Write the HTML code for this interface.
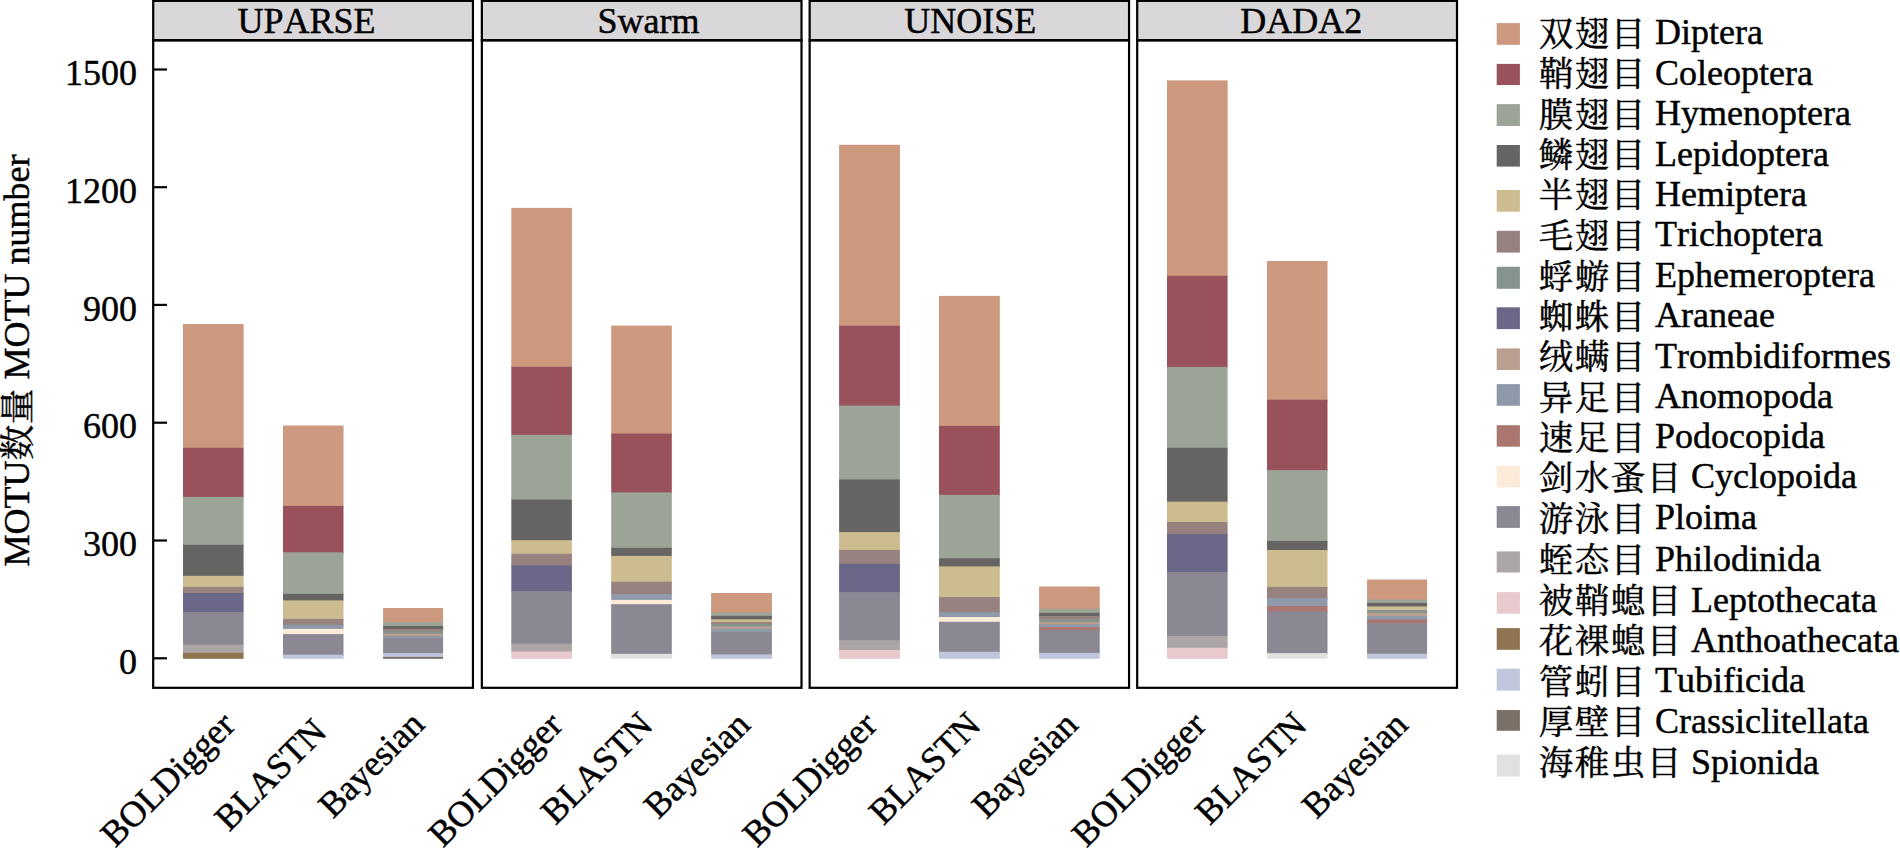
<!DOCTYPE html>
<html lang="zh"><head><meta charset="utf-8"><title>MOTU number</title>
<style>
html,body{margin:0;padding:0;background:#fff;}
body{width:1900px;height:849px;overflow:hidden;}
svg{display:block;position:absolute;left:0;top:0;}
text{font-family:"Liberation Serif", "Noto Serif CJK SC", serif;font-size:36px;fill:#000;font-kerning:none;stroke:#000;stroke-width:0.45px;stroke-linejoin:round;}
.c{font-size:34.5px;letter-spacing:1.5px;}
.d{font-size:35.5px;letter-spacing:0.5px;}
.b{fill:none;stroke:#000;stroke-width:2.2;}
.s{fill:#D9D7DA;stroke:#000;stroke-width:2.2;}
.t{stroke:#000;stroke-width:2.2;fill:none;}
</style></head><body>
<svg width="1900" height="849" viewBox="0 0 1900 849" role="img" aria-label="MOTU number by clustering method and taxonomy assignment">
<rect x="0" y="0" width="1900" height="849" fill="#fff"/>
<g shape-rendering="auto">
<rect x="183" y="324" width="60.6" height="124.8" fill="#CC987E"/>
<rect x="183" y="447.8" width="60.6" height="50.1" fill="#99525B"/>
<rect x="183" y="496.9" width="60.6" height="48.9" fill="#9CA397"/>
<rect x="183" y="544.8" width="60.6" height="32" fill="#666564"/>
<rect x="183" y="575.8" width="60.6" height="12.1" fill="#CDBC90"/>
<rect x="183" y="586.9" width="60.6" height="7.1" fill="#978280"/>
<rect x="183" y="593" width="60.6" height="19.9" fill="#6A6788"/>
<rect x="183" y="611.9" width="60.6" height="33.8" fill="#8B8793"/>
<rect x="183" y="644.7" width="60.6" height="9.1" fill="#ABA5A6"/>
<rect x="183" y="652.8" width="60.6" height="6.05" fill="#90744F"/>
<rect x="283" y="425.5" width="60.5" height="81.4" fill="#CC987E"/>
<rect x="283" y="505.9" width="60.5" height="47.4" fill="#99525B"/>
<rect x="283" y="552.3" width="60.5" height="42.6" fill="#9CA397"/>
<rect x="283" y="593.9" width="60.5" height="7.5" fill="#666564"/>
<rect x="283" y="600.4" width="60.5" height="19.5" fill="#CDBC90"/>
<rect x="283" y="618.9" width="60.5" height="6.9" fill="#978280"/>
<rect x="283" y="624.8" width="60.5" height="5.1" fill="#8E99A9"/>
<rect x="283" y="628.9" width="60.5" height="6.2" fill="#FDEBD9"/>
<rect x="283" y="634.1" width="60.5" height="21.6" fill="#8B8793"/>
<rect x="283" y="654.7" width="60.5" height="4.15" fill="#C0C6DB"/>
<rect x="383.1" y="608" width="60" height="15" fill="#CC987E"/>
<rect x="383.1" y="622" width="60" height="5" fill="#9CA397"/>
<rect x="383.1" y="626" width="60" height="3.9" fill="#666564"/>
<rect x="383.1" y="628.9" width="60" height="3.4" fill="#978280"/>
<rect x="383.1" y="631.3" width="60" height="3.4" fill="#86948F"/>
<rect x="383.1" y="633.7" width="60" height="3.3" fill="#BB9F8E"/>
<rect x="383.1" y="636" width="60" height="3" fill="#8E99A9"/>
<rect x="383.1" y="638" width="60" height="16.1" fill="#8B8793"/>
<rect x="383.1" y="653.1" width="60" height="4.75" fill="#C0C6DB"/>
<rect x="383.1" y="656.85" width="60" height="2" fill="#7C7169"/>
<rect x="511.3" y="207.9" width="60.6" height="159.9" fill="#CC987E"/>
<rect x="511.3" y="366.8" width="60.6" height="69" fill="#99525B"/>
<rect x="511.3" y="434.8" width="60.6" height="65.8" fill="#9CA397"/>
<rect x="511.3" y="499.6" width="60.6" height="41.6" fill="#666564"/>
<rect x="511.3" y="540.2" width="60.6" height="14.6" fill="#CDBC90"/>
<rect x="511.3" y="553.8" width="60.6" height="12.6" fill="#978280"/>
<rect x="511.3" y="565.4" width="60.6" height="26.7" fill="#6A6788"/>
<rect x="511.3" y="591.1" width="60.6" height="53.5" fill="#8B8793"/>
<rect x="511.3" y="643.6" width="60.6" height="8.9" fill="#ABA5A6"/>
<rect x="511.3" y="651.5" width="60.6" height="7.35" fill="#E8C9CC"/>
<rect x="611.2" y="325.6" width="60.6" height="109" fill="#CC987E"/>
<rect x="611.2" y="433.6" width="60.6" height="59.8" fill="#99525B"/>
<rect x="611.2" y="492.4" width="60.6" height="56.4" fill="#9CA397"/>
<rect x="611.2" y="547.8" width="60.6" height="9.1" fill="#666564"/>
<rect x="611.2" y="555.9" width="60.6" height="26.8" fill="#CDBC90"/>
<rect x="611.2" y="581.7" width="60.6" height="13.3" fill="#978280"/>
<rect x="611.2" y="594" width="60.6" height="6.9" fill="#8E99A9"/>
<rect x="611.2" y="599.9" width="60.6" height="5.3" fill="#FDEBD9"/>
<rect x="611.2" y="604.2" width="60.6" height="50.6" fill="#8B8793"/>
<rect x="611.2" y="653.8" width="60.6" height="5.05" fill="#E1E1DF"/>
<rect x="711.1" y="593" width="60.8" height="20.5" fill="#CC987E"/>
<rect x="711.1" y="612.5" width="60.8" height="4.4" fill="#9CA397"/>
<rect x="711.1" y="615.9" width="60.8" height="4.4" fill="#666564"/>
<rect x="711.1" y="619.3" width="60.8" height="3.7" fill="#CDBC90"/>
<rect x="711.1" y="622" width="60.8" height="3" fill="#978280"/>
<rect x="711.1" y="624" width="60.8" height="3.5" fill="#86948F"/>
<rect x="711.1" y="626.5" width="60.8" height="3.2" fill="#BB9F8E"/>
<rect x="711.1" y="628.7" width="60.8" height="4.2" fill="#8E99A9"/>
<rect x="711.1" y="631.9" width="60.8" height="23.5" fill="#8B8793"/>
<rect x="711.1" y="654.4" width="60.8" height="4.45" fill="#C0C6DB"/>
<rect x="839.1" y="144.8" width="60.8" height="181.9" fill="#CC987E"/>
<rect x="839.1" y="325.7" width="60.8" height="80.9" fill="#99525B"/>
<rect x="839.1" y="405.6" width="60.8" height="74.9" fill="#9CA397"/>
<rect x="839.1" y="479.5" width="60.8" height="53.6" fill="#666564"/>
<rect x="839.1" y="532.1" width="60.8" height="18.8" fill="#CDBC90"/>
<rect x="839.1" y="549.9" width="60.8" height="15" fill="#978280"/>
<rect x="839.1" y="563.9" width="60.8" height="29.2" fill="#6A6788"/>
<rect x="839.1" y="592.1" width="60.8" height="49.1" fill="#8B8793"/>
<rect x="839.1" y="640.2" width="60.8" height="10.8" fill="#ABA5A6"/>
<rect x="839.1" y="650" width="60.8" height="8.85" fill="#E8C9CC"/>
<rect x="939" y="295.9" width="60.8" height="131" fill="#CC987E"/>
<rect x="939" y="425.9" width="60.8" height="69.9" fill="#99525B"/>
<rect x="939" y="494.8" width="60.8" height="64.5" fill="#9CA397"/>
<rect x="939" y="558.3" width="60.8" height="9.1" fill="#666564"/>
<rect x="939" y="566.4" width="60.8" height="31.7" fill="#CDBC90"/>
<rect x="939" y="597.1" width="60.8" height="16.1" fill="#978280"/>
<rect x="939" y="612.2" width="60.8" height="5.8" fill="#8E99A9"/>
<rect x="939" y="617" width="60.8" height="5.8" fill="#FDEBD9"/>
<rect x="939" y="621.8" width="60.8" height="31" fill="#8B8793"/>
<rect x="939" y="651.8" width="60.8" height="7.05" fill="#C0C6DB"/>
<rect x="1039.1" y="586.5" width="60.6" height="23.3" fill="#CC987E"/>
<rect x="1039.1" y="608.8" width="60.6" height="5.1" fill="#9CA397"/>
<rect x="1039.1" y="612.9" width="60.6" height="4.1" fill="#666564"/>
<rect x="1039.1" y="616" width="60.6" height="4.1" fill="#978280"/>
<rect x="1039.1" y="619.1" width="60.6" height="3.9" fill="#86948F"/>
<rect x="1039.1" y="622" width="60.6" height="3.2" fill="#BB9F8E"/>
<rect x="1039.1" y="624.2" width="60.6" height="3.8" fill="#8E99A9"/>
<rect x="1039.1" y="627" width="60.6" height="3.9" fill="#AB7570"/>
<rect x="1039.1" y="629.9" width="60.6" height="24" fill="#8B8793"/>
<rect x="1039.1" y="652.9" width="60.6" height="5.95" fill="#C0C6DB"/>
<rect x="1167" y="80.4" width="60.6" height="196.4" fill="#CC987E"/>
<rect x="1167" y="275.8" width="60.6" height="92.1" fill="#99525B"/>
<rect x="1167" y="366.9" width="60.6" height="81.9" fill="#9CA397"/>
<rect x="1167" y="447.8" width="60.6" height="54.9" fill="#666564"/>
<rect x="1167" y="501.7" width="60.6" height="21.3" fill="#CDBC90"/>
<rect x="1167" y="522" width="60.6" height="13" fill="#978280"/>
<rect x="1167" y="534" width="60.6" height="38.9" fill="#6A6788"/>
<rect x="1167" y="571.9" width="60.6" height="65.1" fill="#8B8793"/>
<rect x="1167" y="636" width="60.6" height="12.8" fill="#ABA5A6"/>
<rect x="1167" y="647.8" width="60.6" height="11.05" fill="#E8C9CC"/>
<rect x="1267" y="261" width="60.5" height="139.7" fill="#CC987E"/>
<rect x="1267" y="399.7" width="60.5" height="71.4" fill="#99525B"/>
<rect x="1267" y="470.1" width="60.5" height="71.8" fill="#9CA397"/>
<rect x="1267" y="540.9" width="60.5" height="10.1" fill="#666564"/>
<rect x="1267" y="550" width="60.5" height="37.9" fill="#CDBC90"/>
<rect x="1267" y="586.9" width="60.5" height="12.2" fill="#978280"/>
<rect x="1267" y="598.1" width="60.5" height="9" fill="#8E99A9"/>
<rect x="1267" y="606.1" width="60.5" height="6.2" fill="#AB7570"/>
<rect x="1267" y="611.3" width="60.5" height="42.8" fill="#8B8793"/>
<rect x="1267" y="653.1" width="60.5" height="5.75" fill="#E1E1DF"/>
<rect x="1367.05" y="579.5" width="60.05" height="21.1" fill="#CC987E"/>
<rect x="1367.05" y="599.6" width="60.05" height="4.3" fill="#9CA397"/>
<rect x="1367.05" y="602.9" width="60.05" height="4.5" fill="#666564"/>
<rect x="1367.05" y="606.4" width="60.05" height="4.6" fill="#CDBC90"/>
<rect x="1367.05" y="610" width="60.05" height="4" fill="#86948F"/>
<rect x="1367.05" y="613" width="60.05" height="4" fill="#BB9F8E"/>
<rect x="1367.05" y="616" width="60.05" height="4.5" fill="#8E99A9"/>
<rect x="1367.05" y="619.5" width="60.05" height="4.4" fill="#AB7570"/>
<rect x="1367.05" y="622.9" width="60.05" height="31.9" fill="#8B8793"/>
<rect x="1367.05" y="653.8" width="60.05" height="5.05" fill="#C0C6DB"/>
</g>
<rect class="s" x="153.2" y="0.85" width="319.75" height="39.45"/>
<rect class="b" x="153.2" y="40.3" width="319.75" height="647.5"/>
<text x="306.5" y="33.2" text-anchor="middle">UPARSE</text>
<rect class="s" x="481.85" y="0.85" width="319.65" height="39.45"/>
<rect class="b" x="481.85" y="40.3" width="319.65" height="647.5"/>
<text x="648.6" y="33.2" text-anchor="middle">Swarm</text>
<rect class="s" x="809.65" y="0.85" width="319.4" height="39.45"/>
<rect class="b" x="809.65" y="40.3" width="319.4" height="647.5"/>
<text x="970.2" y="33.2" text-anchor="middle">UNOISE</text>
<rect class="s" x="1137.2" y="0.85" width="319.8" height="39.45"/>
<rect class="b" x="1137.2" y="40.3" width="319.8" height="647.5"/>
<text x="1301.2" y="33.2" text-anchor="middle">DADA2</text>
<line class="t" x1="153.2" y1="658.3" x2="167" y2="658.3"/>
<text x="137" y="673.9" text-anchor="end">0</text>
<line class="t" x1="153.2" y1="540.5" x2="167" y2="540.5"/>
<text x="137" y="556.1" text-anchor="end">300</text>
<line class="t" x1="153.2" y1="422.7" x2="167" y2="422.7"/>
<text x="137" y="438.3" text-anchor="end">600</text>
<line class="t" x1="153.2" y1="304.9" x2="167" y2="304.9"/>
<text x="137" y="320.5" text-anchor="end">900</text>
<line class="t" x1="153.2" y1="187.2" x2="167" y2="187.2"/>
<text x="137" y="202.8" text-anchor="end">1200</text>
<line class="t" x1="153.2" y1="69.5" x2="167" y2="69.5"/>
<text x="137" y="85.1" text-anchor="end">1500</text>
<text transform="translate(29.2,566.6) rotate(-90)" x="0" y="0">MOTU<tspan class="d" dx="0.25" dy="1">数量</tspan><tspan dx="-0.25" dy="-1"> MOTU number</tspan></text>
<text transform="translate(236.9,727) rotate(-45)" x="0" y="0" text-anchor="end">BOLDigger</text>
<text transform="translate(328.3,733.5) rotate(-45)" x="0" y="0" text-anchor="end">BLASTN</text>
<text transform="translate(426.2,726.2) rotate(-45)" x="0" y="0" text-anchor="end">Bayesian</text>
<text transform="translate(564.5,727) rotate(-45)" x="0" y="0" text-anchor="end">BOLDigger</text>
<text transform="translate(654.6,727) rotate(-45)" x="0" y="0" text-anchor="end">BLASTN</text>
<text transform="translate(751.9,726.7) rotate(-45)" x="0" y="0" text-anchor="end">Bayesian</text>
<text transform="translate(878.9,727) rotate(-45)" x="0" y="0" text-anchor="end">BOLDigger</text>
<text transform="translate(982.6,727.2) rotate(-45)" x="0" y="0" text-anchor="end">BLASTN</text>
<text transform="translate(1079.7,726.7) rotate(-45)" x="0" y="0" text-anchor="end">Bayesian</text>
<text transform="translate(1208,727) rotate(-45)" x="0" y="0" text-anchor="end">BOLDigger</text>
<text transform="translate(1308.7,727.2) rotate(-45)" x="0" y="0" text-anchor="end">BLASTN</text>
<text transform="translate(1409.7,726.7) rotate(-45)" x="0" y="0" text-anchor="end">Bayesian</text>
<rect x="1496.7" y="23.1" width="23.2" height="21.7" fill="#CC987E"/>
<text x="1538.1" y="44.2"><tspan class="c" dx="0.75" dy="1.3">双翅目</tspan><tspan dx="-0.75" dy="-1.3"> Diptera</tspan></text>
<rect x="1496.7" y="63.9" width="23.2" height="21.1" fill="#99525B"/>
<text x="1538.1" y="84.8"><tspan class="c" dx="0.75" dy="1.3">鞘翅目</tspan><tspan dx="-0.75" dy="-1.3"> Coleoptera</tspan></text>
<rect x="1496.7" y="104.1" width="23.2" height="21.9" fill="#9CA397"/>
<text x="1538.1" y="125.2"><tspan class="c" dx="0.75" dy="1.3">膜翅目</tspan><tspan dx="-0.75" dy="-1.3"> Hymenoptera</tspan></text>
<rect x="1496.7" y="145" width="23.2" height="21.6" fill="#666564"/>
<text x="1538.1" y="165.9"><tspan class="c" dx="0.75" dy="1.3">鳞翅目</tspan><tspan dx="-0.75" dy="-1.3"> Lepidoptera</tspan></text>
<rect x="1496.7" y="190" width="23.2" height="21.7" fill="#CDBC90"/>
<text x="1538.1" y="206.1"><tspan class="c" dx="0.75" dy="1.3">半翅目</tspan><tspan dx="-0.75" dy="-1.3"> Hemiptera</tspan></text>
<rect x="1496.7" y="230.8" width="23.2" height="21.8" fill="#978280"/>
<text x="1538.1" y="246.2"><tspan class="c" dx="0.75" dy="1.3">毛翅目</tspan><tspan dx="-0.75" dy="-1.3"> Trichoptera</tspan></text>
<rect x="1496.7" y="266.8" width="23.2" height="22" fill="#86948F"/>
<text x="1538.1" y="287.2"><tspan class="c" dx="0.75" dy="1.3">蜉蝣目</tspan><tspan dx="-0.75" dy="-1.3"> Ephemeroptera</tspan></text>
<rect x="1496.7" y="307.3" width="23.2" height="21.8" fill="#6A6788"/>
<text x="1538.1" y="327.3"><tspan class="c" dx="0.75" dy="1.3">蜘蛛目</tspan><tspan dx="-0.75" dy="-1.3"> Araneae</tspan></text>
<rect x="1496.7" y="348.4" width="23.2" height="21.6" fill="#BB9F8E"/>
<text x="1538.1" y="367.5"><tspan class="c" dx="0.75" dy="1.3">绒螨目</tspan><tspan dx="-0.75" dy="-1.3"> Trombidiformes</tspan></text>
<rect x="1496.7" y="384.1" width="23.2" height="21.7" fill="#8E99A9"/>
<text x="1538.1" y="408.2"><tspan class="c" dx="0.75" dy="1.3">异足目</tspan><tspan dx="-0.75" dy="-1.3"> Anomopoda</tspan></text>
<rect x="1496.7" y="425.2" width="23.2" height="21.5" fill="#AB7570"/>
<text x="1538.1" y="448.3"><tspan class="c" dx="0.75" dy="1.3">速足目</tspan><tspan dx="-0.75" dy="-1.3"> Podocopida</tspan></text>
<rect x="1496.7" y="465.7" width="23.2" height="21.8" fill="#FDEBD9"/>
<text x="1538.1" y="488.4"><tspan class="c" dx="0.75" dy="1.3">剑水蚤目</tspan><tspan dx="-0.75" dy="-1.3"> Cyclopoida</tspan></text>
<rect x="1496.7" y="506.1" width="23.2" height="21.8" fill="#8B8793"/>
<text x="1538.1" y="529.4"><tspan class="c" dx="0.75" dy="1.3">游泳目</tspan><tspan dx="-0.75" dy="-1.3"> Ploima</tspan></text>
<rect x="1496.7" y="551.4" width="23.2" height="21.1" fill="#ABA5A6"/>
<text x="1538.1" y="570.7"><tspan class="c" dx="0.75" dy="1.3">蛭态目</tspan><tspan dx="-0.75" dy="-1.3"> Philodinida</tspan></text>
<rect x="1496.7" y="592.1" width="23.2" height="21.6" fill="#E8C9CC"/>
<text x="1538.1" y="611.6"><tspan class="c" dx="0.75" dy="1.3">被鞘螅目</tspan><tspan dx="-0.75" dy="-1.3"> Leptothecata</tspan></text>
<rect x="1496.7" y="628.1" width="23.2" height="21.7" fill="#90744F"/>
<text x="1538.1" y="651.8"><tspan class="c" dx="0.75" dy="1.3">花裸螅目</tspan><tspan dx="-0.75" dy="-1.3"> Anthoathecata</tspan></text>
<rect x="1496.7" y="668.7" width="23.2" height="21.9" fill="#C0C6DB"/>
<text x="1538.1" y="692.4"><tspan class="c" dx="0.75" dy="1.3">管蚓目</tspan><tspan dx="-0.75" dy="-1.3"> Tubificida</tspan></text>
<rect x="1496.7" y="710" width="23.2" height="20.8" fill="#7C7169"/>
<text x="1538.1" y="732.8"><tspan class="c" dx="0.75" dy="1.3">厚壁目</tspan><tspan dx="-0.75" dy="-1.3"> Crassiclitellata</tspan></text>
<rect x="1496.7" y="754.6" width="23.2" height="21.9" fill="#E1E1DF"/>
<text x="1538.1" y="774.1"><tspan class="c" dx="0.75" dy="1.3">海稚虫目</tspan><tspan dx="-0.75" dy="-1.3"> Spionida</tspan></text>
</svg>
</body></html>
